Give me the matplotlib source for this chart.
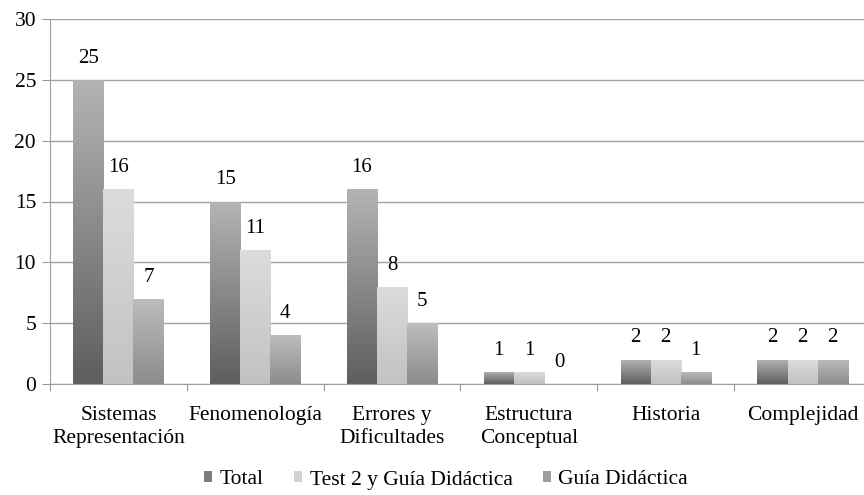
import numpy as np
import matplotlib
matplotlib.use('Agg')
import matplotlib.pyplot as plt
from matplotlib.colors import LinearSegmentedColormap
from matplotlib.patches import Rectangle

categorias = ['Sistemas\nRepresentación', 'Fenomenología', 'Errores y\nDificultades',
              'Estructura\nConceptual', 'Historia', 'Complejidad']
total = [25, 15, 16, 1, 2, 2]
test2_guia = [16, 11, 8, 1, 2, 2]
guia = [7, 4, 5, 0, 1, 2]
series = ['Total', 'Test 2 y Guía Didáctica', 'Guía Didáctica']

# gradient colours (bottom, top) for each series
grads = [('#5e5e5e', '#b4b4b4'), ('#c2c2c2', '#dcdcdc'), ('#8c8c8c', '#bdbdbd')]
fs = 15.5

plt.rcParams['font.family'] = ['Liberation Serif', 'DejaVu Serif']
fig = plt.figure(figsize=(8.64, 4.95), dpi=100)
ax = fig.add_axes([50 / 864, 1 - 384 / 495, 821 / 864, 365 / 495])

x = np.arange(len(categorias))
w = 0.22
grad = np.linspace(0, 1, 256).reshape(-1, 1)
for i, vals in enumerate([total, test2_guia, guia]):
    cmap = LinearSegmentedColormap.from_list('g%d' % i, grads[i])
    pos = x + (i - 1) * w
    bars = ax.bar(pos, vals, w, color='none', edgecolor='none', zorder=2)
    for b, v in zip(bars, vals):
        x0, y0 = b.get_x(), b.get_y()
        if v > 0:
            im = ax.imshow(grad, cmap=cmap, origin='lower', aspect='auto',
                           extent=[x0, x0 + w, y0, y0 + v], zorder=2)
            im.set_clip_path(b)
        ax.text(x0 + w / 2, v + 1.0, str(v), ha='center', va='bottom', fontsize=fs - 0.5)

ax.set_xlim(-0.5, 5.5)
ax.set_ylim(0, 30)
ax.set_yticks(range(0, 31, 5))
ax.set_xticks(np.arange(-0.5, 6, 1))
ax.set_xticklabels([])
ax.set_xticks(x, minor=True)
ax.set_xticklabels(categorias, minor=True, fontsize=fs, linespacing=1.25)
ax.tick_params(axis='x', which='minor', length=0, pad=16)
ax.tick_params(axis='x', which='major', length=5, color='#999999', direction='out')
ax.tick_params(axis='y', length=6, color='#999999', labelsize=fs, pad=4)
ax.yaxis.grid(True, color='#a0a0a0', linewidth=1)
ax.set_axisbelow(True)
for s in ['top', 'right']:
    ax.spines[s].set_visible(False)
ax.spines['left'].set_color('#a0a0a0')
ax.spines['bottom'].set_color('#a0a0a0')

swatch = ['#7c7c7c', '#d2d2d2', '#9e9e9e']
handles = [Rectangle((0, 0), 1, 1, facecolor=c, edgecolor='none') for c in swatch]
fig.legend(handles, series, loc='center', bbox_to_anchor=(446 / 864, 1 - 480 / 495),
           ncol=3, frameon=False, fontsize=fs, handlelength=0.38, handleheight=0.38,
           handletextpad=0.35, columnspacing=1.4, borderpad=0)

fig.savefig('out.png', dpi=100)
